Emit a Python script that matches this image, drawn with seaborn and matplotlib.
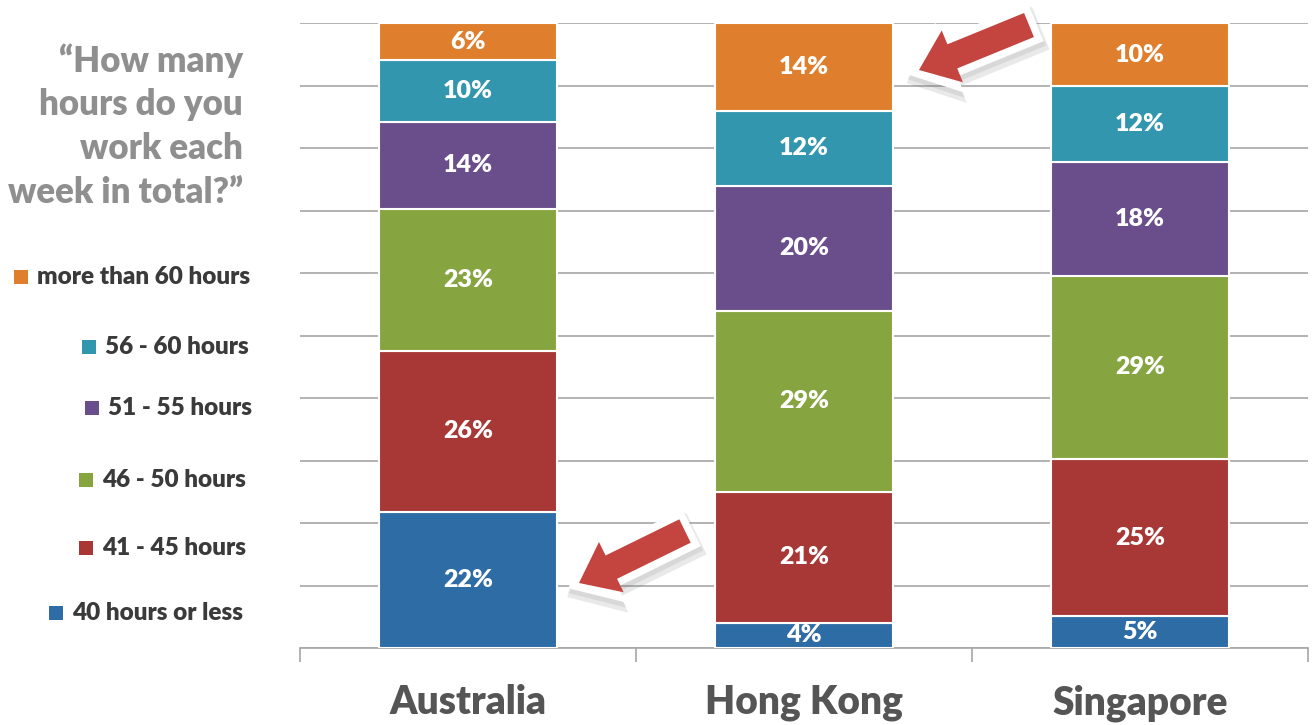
import matplotlib
matplotlib.use("Agg")
import matplotlib.pyplot as plt
from matplotlib.patches import FancyArrow, Rectangle
import numpy as np
import pandas as pd
import seaborn as sns

countries = ["Australia", "Hong Kong", "Singapore"]
bands = ["40 hours or less", "41 - 45 hours", "46 - 50 hours",
         "51 - 55 hours", "56 - 60 hours", "more than 60 hours"]
under_40 = [22, 4, 5]
h41_45 = [26, 21, 25]
h46_50 = [23, 29, 29]
h51_55 = [14, 20, 18]
h56_60 = [10, 12, 12]
over_60 = [6, 14, 10]
colors = ["#2E6CA5", "#A83835", "#86A43F", "#6A4E8B", "#3196AE", "#DF7F2D"]
question = "\u201cHow many\nhours do you\nwork each\nweek in total?\u201d"

sns.set_style("white")
plt.rcParams["font.family"] = ["Lato", "DejaVu Sans"]
plt.rcParams["font.weight"] = "heavy"

df = pd.DataFrame([under_40, h41_45, h46_50, h51_55, h56_60, over_60],
                  index=bands, columns=countries)
shares = df / df.sum(axis=0) * 100

fig = plt.figure(figsize=(13.15, 7.25), dpi=100)
ax = fig.add_axes([300 / 1315, 1 - 648 / 725, 1008 / 1315, 625 / 725])

bottom = np.zeros(len(countries))
for band, col in zip(bands, colors):
    sns.barplot(x=countries, y=shares.loc[band].values, order=countries,
                color=col, saturation=1, width=0.53, bottom=bottom, ax=ax,
                edgecolor="white", linewidth=1.5, zorder=3)
    cont = ax.containers[-1]
    ax.bar_label(cont, labels=[f"{v}%" for v in df.loc[band]],
                 label_type="center", color="white", fontsize=18,
                 fontweight="heavy")
    bottom += shares.loc[band].values

ax.set_xlim(-0.5, 2.5)
ax.set_ylim(0, 100)
ax.set_yticks(np.arange(0, 101, 10))
ax.yaxis.grid(True, color="#A6A6A6", linewidth=1.2, zorder=0)
ax.set_axisbelow(True)
ax.tick_params(axis="y", left=False, labelleft=False)
ax.set_xticks([-0.5, 0.5, 1.5, 2.5])
ax.set_xticklabels([])
ax.tick_params(axis="x", which="major", bottom=True, length=10, width=1.2,
               color="#A6A6A6", direction="out")
ax.set_xticks([0, 1, 2], minor=True)
ax.set_xticklabels(countries, minor=True, fontsize=28, fontweight="heavy",
                   color="#555555")
ax.tick_params(axis="x", which="minor", bottom=True, length=0, pad=26)
ax.set_xlabel("")
ax.set_ylabel("")
for s in ["left", "right", "top"]:
    ax.spines[s].set_visible(False)
ax.spines["bottom"].set_color("#A6A6A6")
ax.spines["bottom"].set_linewidth(1.2)

# question text
fig.text(243 / 1315, 1 - 43 / 725, question, ha="right", va="top",
         multialignment="right", fontsize=25, fontweight="heavy",
         color="#8F8F8F", linespacing=1.4)

# manual legend, right aligned like the original
leg_y = [613, 548, 480, 408, 347, 277]
leg_right = [243, 246, 246, 252, 249, 250]
fig.canvas.draw()
renderer = fig.canvas.get_renderer()
for band, col, y, xr in zip(bands, colors, leg_y, leg_right):
    t = fig.text(xr / 1315, 1 - y / 725, band, ha="right", va="center",
                 fontsize=17.5, fontweight="heavy", color="#3A3A3A")
    bb = t.get_window_extent(renderer)
    x0 = bb.x0 - 23
    fig.add_artist(Rectangle((x0 / 1315, 1 - (y + 7) / 725), 14 / 1315, 14 / 725,
                             transform=fig.transFigure, facecolor=col,
                             edgecolor="none"))


# callout arrows: soft shadow, white rim, red body (sizes in inches)
def block_arrow(tail, tip, grow, fc, alpha, shift=(0, 0)):
    d = np.array(tip) - np.array(tail)
    u = d / np.hypot(*d)
    t0 = np.array(tail) - u * grow + shift
    t1 = np.array(tip) + u * grow * 1.6 + shift
    arr = FancyArrow(t0[0], t0[1], *(t1 - t0),
                     width=0.26 + 2 * grow, head_width=0.56 + 2.6 * grow,
                     head_length=0.36 + 1.2 * grow, length_includes_head=True,
                     transform=fig.dpi_scale_trans, facecolor=fc,
                     edgecolor="none", alpha=alpha, zorder=10)
    fig.add_artist(arr)


for tail, tip in [((6.85, 1.94), (5.79, 1.42)), ((10.29, 7.00), (9.19, 6.55))]:
    block_arrow(tail, tip, 0.10, "#777777", 0.16, shift=(0.025, -0.07))
    block_arrow(tail, tip, 0.085, "#777777", 0.14, shift=(0.01, -0.04))
    block_arrow(tail, tip, 0.075, "white", 1.0)
    block_arrow(tail, tip, 0.0, "#C4453F", 1.0)

fig.savefig("out.png", dpi=100)
